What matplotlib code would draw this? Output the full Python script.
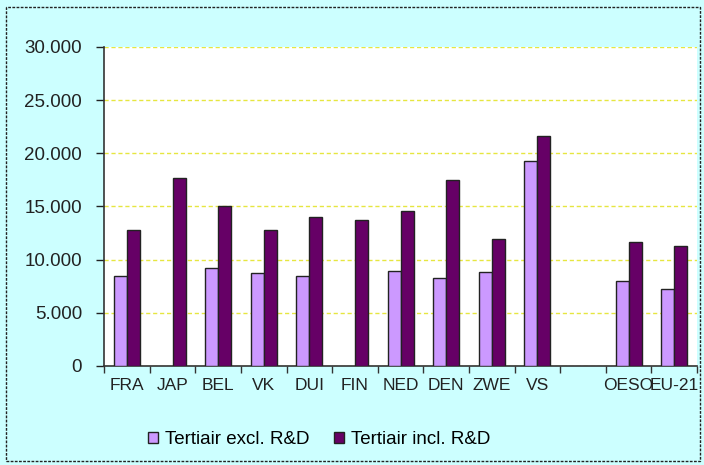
import numpy as np
import matplotlib.pyplot as plt
from matplotlib.patches import Rectangle
from matplotlib.ticker import FuncFormatter

plt.rcParams['font.family'] = ['Liberation Sans', 'DejaVu Sans']

categories = ['FRA', 'JAP', 'BEL', 'VK', 'DUI', 'FIN', 'NED', 'DEN', 'ZWE', 'VS', '', 'OESO', 'EU-21']
excl_rd = [8470, np.nan, 9220, 8780, 8470, np.nan, 8910, 8310, 8810, 19250, np.nan, 8030, 7270]
incl_rd = [12800, 17700, 15050, 12800, 14000, 13700, 14600, 17450, 11920, 21600, np.nan, 11630, 11320]

excl_color = '#CC99FF'
incl_color = '#660066'

fig = plt.figure(figsize=(7.04, 4.65), dpi=100, facecolor='#CCFFFF')
ax = fig.add_axes([0.148, 0.213, 0.842, 0.686])
ax.set_facecolor('white')

x = np.arange(len(categories))
w = 0.285
ax.bar(x - w / 2, excl_rd, w, color=excl_color, edgecolor='#222222', linewidth=1,
       label='Tertiair excl. R&D', zorder=3)
ax.bar(x + w / 2, incl_rd, w, color=incl_color, edgecolor='#222222', linewidth=1,
       label='Tertiair incl. R&D', zorder=3)

ax.set_xlim(-0.5, len(categories) - 0.5)
ax.set_ylim(0, 30000)
ax.set_yticks(np.arange(0, 30001, 5000))
ax.yaxis.set_major_formatter(FuncFormatter(lambda v, p: f'{int(v):,}'.replace(',', '.')))
ax.yaxis.grid(True, color='#E6E640', linestyle=(0, (3, 2)), linewidth=1, zorder=0)

# category labels between boundary ticks
ax.set_xticks(x)
ax.set_xticklabels(categories)
ax.tick_params(axis='x', length=0, labelsize=12.5, pad=9, colors='#222222')
ax.set_xticks(np.arange(-0.5, len(categories), 1), minor=True)
ax.tick_params(axis='x', which='minor', length=5, width=1, direction='out', color='#333333')
ax.tick_params(axis='y', length=6, width=1, direction='out', labelsize=13.5, pad=10,
               colors='#222222')

for side in ['top', 'right']:
    ax.spines[side].set_visible(False)
for side in ['left', 'bottom']:
    ax.spines[side].set_color('#333333')
    ax.spines[side].set_linewidth(1.2)

fig.legend(loc='center', bbox_to_anchor=(0.453, 0.054), ncol=2, frameon=False,
           fontsize=13.5, handlelength=0.55, handleheight=0.55, handletextpad=0.35,
           columnspacing=1.3)

fig.patches.append(Rectangle((0.009, 0.008), 0.985, 0.977, transform=fig.transFigure,
                             fill=False, edgecolor='#222222', linestyle=(0, (2, 1)),
                             linewidth=1))

fig.savefig('out.png', dpi=100, facecolor=fig.get_facecolor())
